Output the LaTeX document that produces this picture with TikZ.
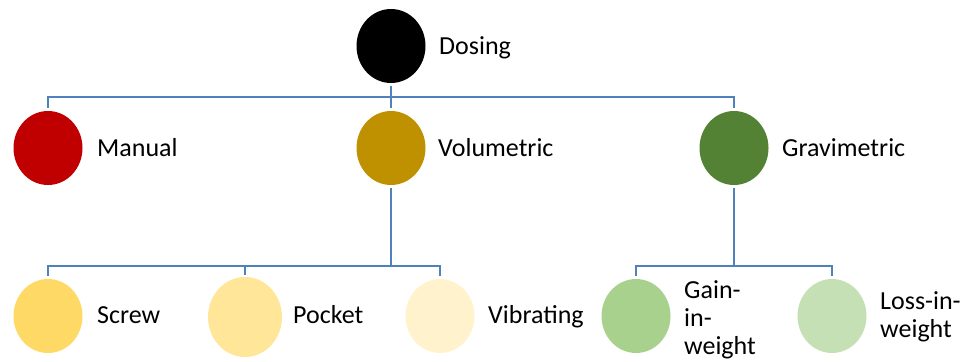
\documentclass[tikz,border=0pt]{standalone}
\usepackage{fontspec}
\setmainfont{Carlito}
\usetikzlibrary{shapes.geometric}
\definecolor{linkblue}{HTML}{4F81BD}
\definecolor{cManual}{HTML}{C00000}
\definecolor{cVol}{HTML}{BF9000}
\definecolor{cGrav}{HTML}{548235}
\definecolor{cScrew}{HTML}{FFD966}
\definecolor{cPocket}{HTML}{FFE699}
\definecolor{cVib}{HTML}{FFF2CC}
\definecolor{cGain}{HTML}{A9D18E}
\definecolor{cLoss}{HTML}{C5E0B4}
\tikzset{
  dot/.style={ellipse, inner sep=0pt, minimum width=69pt, minimum height=74pt, fill=#1},
  lbl/.style={anchor=base west, inner sep=0pt, font=\fontsize{26}{28}\selectfont, align=left},
  conn/.style={draw=linkblue, line width=2.5pt},
}
\begin{document}
\begin{tikzpicture}[x=1pt, y=-1pt]
\useasboundingbox (0,0) rectangle (973,361);
% top level
\node[dot=black] (dosing) at (391,46) {};
\node[lbl] (dosingL) at (439,54) {Dosing};
% second level
\node[dot=cManual] (manual) at (48,148) {};
\node[lbl] (manualL) at (97,156) {Manual};
\node[dot=cVol] (vol) at (391,148) {};
\node[lbl] (volL) at (438,156) {Volumetric};
\node[dot=cGrav] (grav) at (734,148) {};
\node[lbl] (gravL) at (782,156) {Gravimetric};
% third level
\node[dot=cScrew] (screw) at (48,316) {};
\node[lbl] (screwL) at (97,323) {Screw};
\node[dot=cPocket, minimum width=74pt, minimum height=80pt] (pocket) at (245,317) {};
\node[lbl] (pocketL) at (293,323) {Pocket};
\node[dot=cVib] (vib) at (440,316) {};
\node[lbl] (vibL) at (488,323) {Vibrating};
\node[dot=cGain] (gain) at (636,316) {};
\node[lbl] (gainL) at (684,354) {Gain-\\in-\\weight};
\node[dot=cLoss] (loss) at (832,316) {};
\node[lbl] (lossL) at (880,337) {Loss-in-\\weight};
% bus lines
\coordinate (busA) at (391,97);
\coordinate (busB) at (391,266);
\coordinate (busC) at (734,266);
\draw[conn, shorten <=3pt] (dosing.south) -- (busA);
\draw[conn, shorten >=3pt] (busA) -| (manual.north);
\draw[conn, shorten >=3pt] (busA) -- (vol.north);
\draw[conn, shorten >=3pt] (busA) -| (grav.north);
\draw[conn, shorten <=3pt] (vol.south) -- (busB);
\draw[conn, shorten >=3pt] (busB) -| (screw.north);
\draw[conn, shorten >=2pt] (busB) -| (pocket.north);
\draw[conn, shorten >=3pt] (busB) -| (vib.north);
\draw[conn, shorten <=3pt] (grav.south) -- (busC);
\draw[conn, shorten >=3pt] (busC) -| (gain.north);
\draw[conn, shorten >=3pt] (busC) -| (loss.north);
\end{tikzpicture}
\end{document}
